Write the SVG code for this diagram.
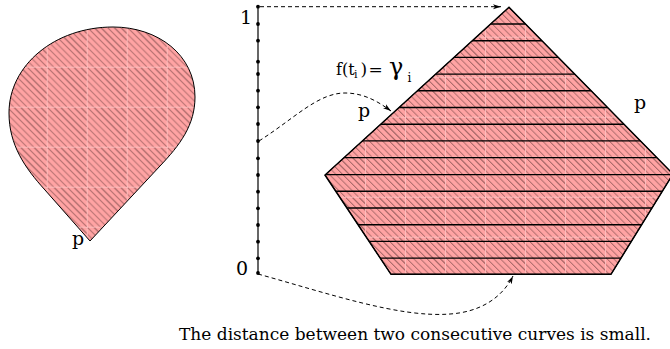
<svg xmlns="http://www.w3.org/2000/svg" width="670" height="349" viewBox="0 0 670 349">
<style>
text{font-family:"DejaVu Serif","Liberation Serif",serif;fill:#000}
.shape{stroke:#000;stroke-linejoin:miter}
.hl{stroke:#000;stroke-width:1.4}
.dash{fill:none;stroke:#000;stroke-width:1;stroke-dasharray:4 3}
.dot{fill:#000}
</style>
<defs>
<pattern id="hatchL" patternUnits="userSpaceOnUse" x="6.7" y="26.7" width="40" height="40">
<rect width="40" height="40" fill="#ffa3a3"/>
<g stroke="#8a5454" stroke-width="0.9">
<path d="M-40,0 L40,80 M-33.33,0 L46.67,80 M-26.67,0 L53.33,80 M-20,0 L60,80 M-13.33,0 L66.67,80 M-6.67,0 L73.33,80 M0,0 L80,80 M6.67,0 L86.67,80 M13.33,0 L93.33,80 M20,0 L100,80 M26.67,0 L106.67,80 M33.33,0 L113.33,80"/>
<path d="M-40,-40 L40,40 M-33.33,-40 L46.67,40 M-26.67,-40 L53.33,40 M-20,-40 L60,40 M-13.33,-40 L66.67,40 M-6.67,-40 L73.33,40 M6.67,-40 L86.67,40 M13.33,-40 L93.33,40 M20,-40 L100,40 M26.67,-40 L106.67,40 M33.33,-40 L113.33,40"/>
</g>
<path d="M0,0.5 H40 M0.5,0 V40" stroke="#ffc4c4" stroke-width="0.8"/>
</pattern>
<pattern id="hatchR" href="#hatchL" x="5" y="36.7"/>
<clipPath id="polyClip">
<polygon points="509,7.3 673,174 611,274.3 391,274.3 325,175"/>
</clipPath>
<marker id="arr" markerUnits="userSpaceOnUse" markerWidth="9" markerHeight="6" refX="8" refY="3" orient="auto">
<path d="M0,0.5 L8,3 L0,5.5 L2,3 Z" fill="#000"/>
</marker>
</defs>

<g id="teardrop">
<path class="shape" d="M90,241 L160,166 C180,145 195,125 195,97 C195,55 158,27 113,27 C55,27 9,65 9,113 C9,145 25,168 45,190 Z" fill="url(#hatchL)" stroke-width="1"/>
<text font-family="DejaVu Serif" x="72" y="245" font-size="19">p</text>
</g>

<g id="polygon">
<polygon class="shape" points="509,7.3 673,174 611,274.3 391,274.3 325,175" fill="url(#hatchR)" stroke="none"/>
<g clip-path="url(#polyClip)" class="hl">
<path d="M300,24 H680 M300,40.7 H680 M300,57.4 H680 M300,74.1 H680 M300,90.8 H680 M300,107.5 H680 M300,124.2 H680 M300,140.9 H680 M300,157.6 H680 M300,174.6 H680 M300,191.3 H680 M300,208 H680 M300,224.7 H680 M300,241.4 H680 M300,258.1 H680"/>
</g>
<polygon class="shape" points="509,7.3 673,174 611,274.3 391,274.3 325,175" fill="none" stroke-width="1.5"/>
<text font-family="DejaVu Serif" x="358" y="117" font-size="19">p</text>
<text font-family="DejaVu Serif" x="634" y="109" font-size="19">p</text>
</g>

<g id="axis">
<line x1="258" y1="6.7" x2="258" y2="273" stroke="#000" stroke-width="1.2"/>
<g class="dot">
<circle cx="258" cy="6.7" r="1.9"/>
<circle cx="258" cy="24" r="1.9"/>
<circle cx="258" cy="40.7" r="1.9"/>
<circle cx="258" cy="61.7" r="1.9"/>
<circle cx="258" cy="74" r="1.9"/>
<circle cx="258" cy="90.7" r="1.9"/>
<circle cx="258" cy="107.3" r="1.9"/>
<circle cx="258" cy="124" r="1.9"/>
<circle cx="258" cy="141" r="1.9"/>
<circle cx="258" cy="158.3" r="1.9"/>
<circle cx="258" cy="175" r="1.9"/>
<circle cx="258" cy="191.7" r="1.9"/>
<circle cx="258" cy="208.3" r="1.9"/>
<circle cx="258" cy="225" r="1.9"/>
<circle cx="258" cy="241.7" r="1.9"/>
<circle cx="258" cy="258.3" r="1.9"/>
<circle cx="258" cy="273" r="1.9"/>
</g>
<text font-family="DejaVu Serif" x="240" y="24" font-size="19">1</text>
<text font-family="DejaVu Serif" x="236" y="275" font-size="19">0</text>
</g>

<g id="label-f">
<text font-family="DejaVu Serif" font-size="16"><tspan x="336" y="75">f(t</tspan><tspan x="354" y="78" font-size="11">i</tspan><tspan x="360.5" y="75" font-size="17">)</tspan><tspan x="368.5" y="75" font-size="17">=</tspan><tspan x="389" y="75" font-size="24">γ</tspan><tspan x="407.5" y="81.5" font-size="12">i</tspan></text>
</g>

<g id="connectors">
<path class="dash" d="M260,6.7 H501" marker-end="url(#arr)"/>
<path class="dash" d="M259,141 C295,118 318,93 345,93 C365,93 380,103 391,111" marker-end="url(#arr)"/>
<path class="dash" d="M258,274 C330,294 400,318 450,314 C480,312 502,298 513,276" marker-end="url(#arr)"/>
</g>

<g id="caption">
<text font-family="DejaVu Serif" x="179" y="340" font-size="17.5" textLength="472" lengthAdjust="spacingAndGlyphs">The distance between two consecutive curves is small.</text>
</g>
</svg>
